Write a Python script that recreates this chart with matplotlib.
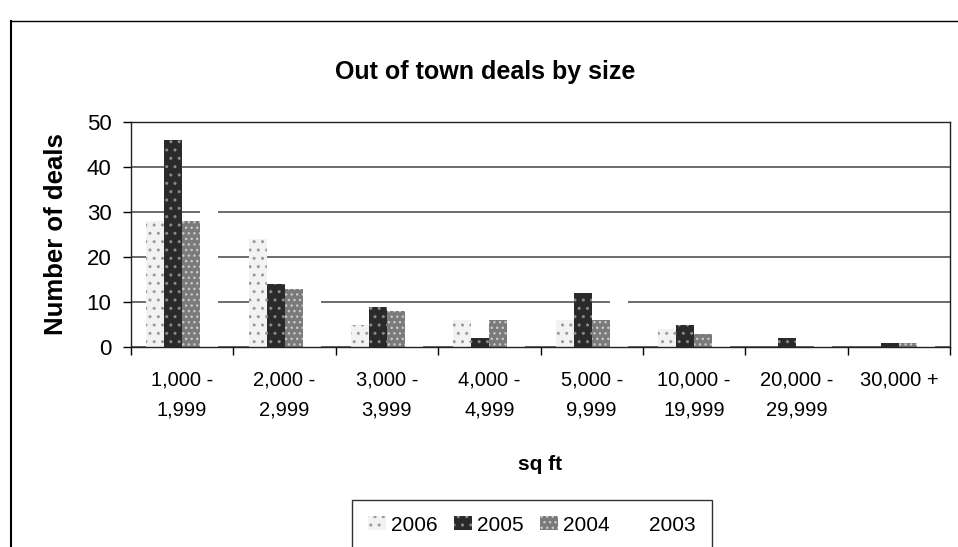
import numpy as np
import matplotlib
matplotlib.use('Agg')
import matplotlib.pyplot as plt
from matplotlib.lines import Line2D

# data
size_bands = ['1,000 -\n1,999', '2,000 -\n2,999', '3,000 -\n3,999', '4,000 -\n4,999',
	'5,000 -\n9,999', '10,000 -\n19,999', '20,000 -\n29,999', '30,000 +']
years = ['2006', '2005', '2004', '2003']
deals_2006 = [28, 24, 5, 6, 6, 4, 0, 0]
deals_2005 = [46, 14, 9, 2, 12, 5, 2, 1]
deals_2004 = [28, 13, 8, 6, 6, 3, 0, 1]
deals_2003 = [34, 15, 6, 5, 11, 3, 1, 1]   # white bars, only seen where they hide gridlines


def main():
	plt.rcParams['font.family'] = ['Liberation Sans', 'DejaVu Sans']
	plt.rcParams['hatch.linewidth'] = 1.0

	fig = plt.figure(figsize=(9.58, 5.47), dpi=100)
	ax = fig.add_axes([131 / 958, 1 - 347 / 547, 819 / 958, 225 / 547])

	series = [deals_2006, deals_2005, deals_2004, deals_2003]
	faces = ['#f2f2f2', '#2a2a2a', '#7a7a7a', 'white']
	hatch_cols = ['#9a9a9a', '#8a8a8a', '#c8c8c8', 'white']
	hatches = ['..', '..', '...', None]

	x = np.arange(len(size_bands))
	w = 0.176
	for j in range(len(series)):
		off = -2 * w + w * (j + 0.5)
		ax.bar(x + off, series[j], w, color=faces[j], edgecolor=hatch_cols[j],
			hatch=hatches[j], linewidth=0, label=years[j], zorder=2)

	ax.set_xlim(-0.5, len(size_bands) - 0.5)
	ax.set_ylim(0, 50)
	ax.set_yticks([0, 10, 20, 30, 40, 50])
	ax.yaxis.grid(True, color='#444444', linewidth=1.1)
	ax.set_axisbelow(True)

	# ticks between categories, labels in the middle
	ax.set_xticks(np.arange(len(size_bands) + 1) - 0.5)
	ax.set_xticklabels([])
	ax.set_xticks(x, minor=True)
	ax.set_xticklabels(size_bands, minor=True, fontsize=14.5, linespacing=1.75)
	ax.tick_params(axis='x', which='major', direction='out', length=6, width=1)
	ax.tick_params(axis='x', which='minor', length=0, pad=17)
	ax.tick_params(axis='y', direction='out', length=6, width=1, pad=8, labelsize=16)

	for s in ax.spines.values():
		s.set_color('#222222')
		s.set_linewidth(1.0)
		s.set_zorder(3)

	ax.set_ylabel('Number of deals', fontsize=18.5, fontweight='bold')
	ax.yaxis.set_label_coords(-0.077, 0.5)
	ax.set_xlabel('sq ft', fontsize=15, fontweight='bold')
	ax.xaxis.set_label_coords(0.5, -0.48)

	fig.text(485 / 958, 1 - 72 / 547, 'Out of town deals by size', fontsize=18,
		fontweight='bold', ha='center', va='center')

	leg = ax.legend(loc='upper center', bbox_to_anchor=(532 / 958, 1 - 500 / 547),
		bbox_transform=fig.transFigure, ncol=4, fontsize=15, frameon=True,
		fancybox=False, handlelength=0.85, handleheight=0.65, handletextpad=0.25,
		columnspacing=0.8, borderpad=0.75, borderaxespad=0)
	leg.get_frame().set_edgecolor('black')
	leg.get_frame().set_linewidth(1.0)

	# chart area border (cut off at right and bottom in the scan)
	fig.add_artist(Line2D([11 / 958, 11 / 958], [0, 1 - 21 / 547], transform=fig.transFigure,
		color='black', linewidth=1.5))
	fig.add_artist(Line2D([11 / 958, 1], [1 - 21 / 547, 1 - 21 / 547], transform=fig.transFigure,
		color='black', linewidth=1.0))

	fig.savefig('out.png', dpi=100)


if __name__ == '__main__':
	main()
